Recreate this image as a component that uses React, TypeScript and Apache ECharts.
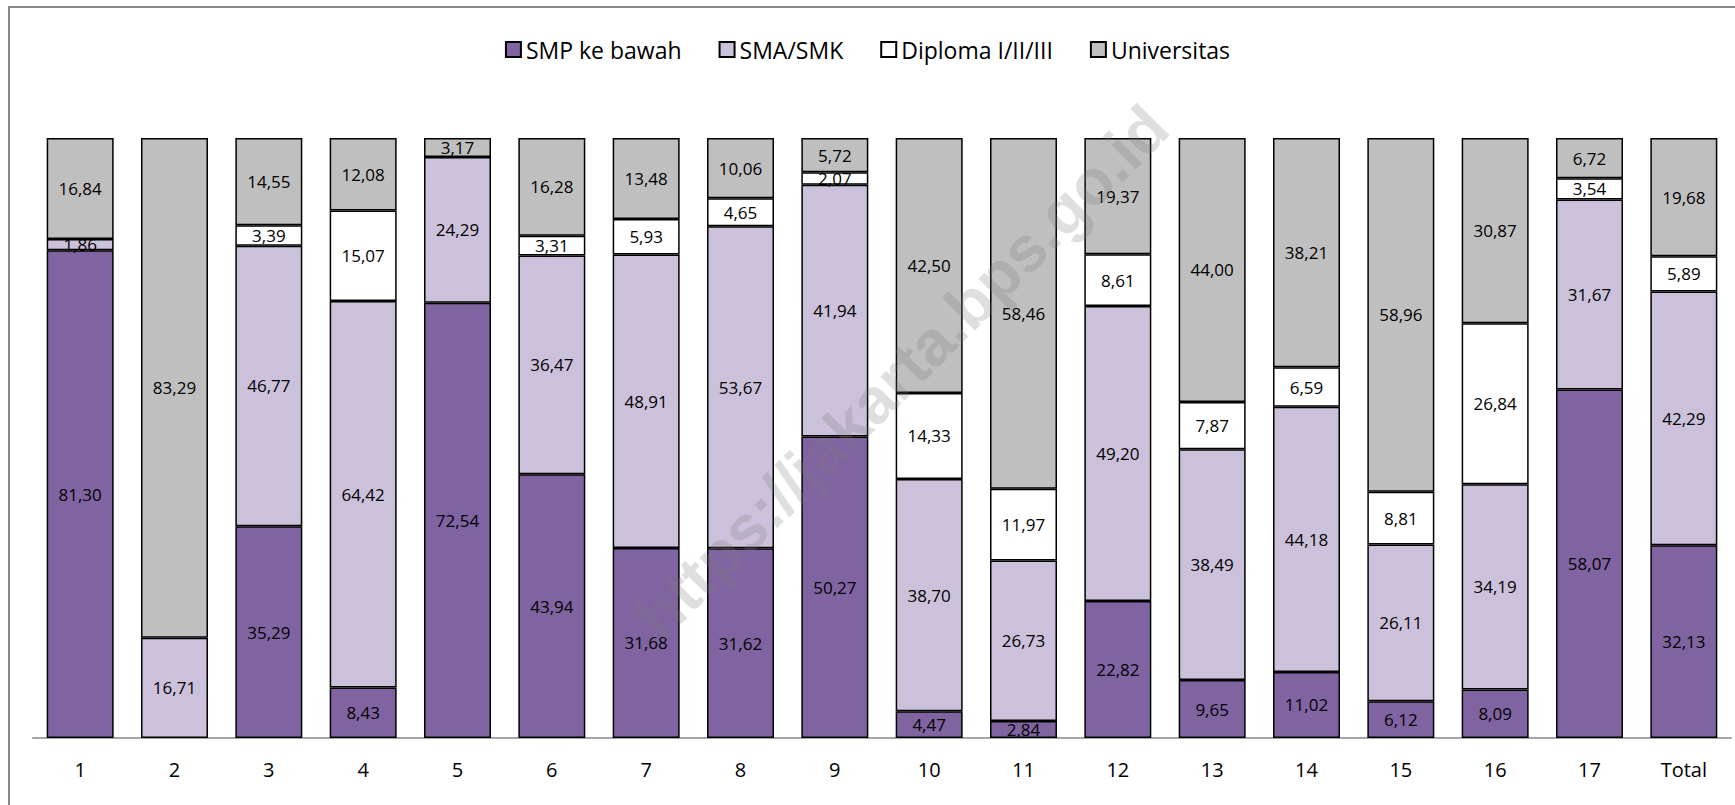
import React, { useEffect, useRef } from "react";
import * as echarts from "echarts";

const categories = ["1", "2", "3", "4", "5", "6", "7", "8", "9", "10", "11", "12", "13", "14", "15", "16", "17", "Total"];
const smp = [81.30, 0, 35.29, 8.43, 72.54, 43.94, 31.68, 31.62, 50.27, 4.47, 2.84, 22.82, 9.65, 11.02, 6.12, 8.09, 58.07, 32.13];
const sma = [1.86, 16.71, 46.77, 64.42, 24.29, 36.47, 48.91, 53.67, 41.94, 38.70, 26.73, 49.20, 38.49, 44.18, 26.11, 34.19, 31.67, 42.29];
const diploma = [0, 0, 3.39, 15.07, 0, 3.31, 5.93, 4.65, 2.07, 14.33, 11.97, 8.61, 7.87, 6.59, 8.81, 26.84, 3.54, 5.89];
const universitas = [16.84, 83.29, 14.55, 12.08, 3.17, 16.28, 13.48, 10.06, 5.72, 42.50, 58.46, 19.37, 44.00, 38.21, 58.96, 30.87, 6.72, 19.68];

const seriesNames = ["SMP ke bawah", "SMA/SMK", "Diploma I/II/III", "Universitas"];
const seriesColors = ["#8064A2", "#CCC1DA", "#FFFFFF", "#BFBFBF"];
const seriesData = [smp, sma, diploma, universitas];

const FONT = "'Open Sans', sans-serif";

export default function App() {
  const ref = useRef<HTMLDivElement>(null);
  useEffect(() => {
    if (!ref.current) return;
    const chart = echarts.init(ref.current, undefined, { renderer: "svg" });
    chart.setOption({
      animation: false,
      backgroundColor: "#FFFFFF",
      textStyle: { fontFamily: FONT },
      legend: {
        top: 33,
        left: "center",
        itemWidth: 15,
        itemHeight: 15,
        itemGap: 37,
        icon: "rect",
        textStyle: { fontSize: 23, color: "#000", fontFamily: FONT },
        data: seriesNames,
      },
      grid: { left: 33, right: 4, top: 138, bottom: 67, containLabel: false },
      xAxis: {
        type: "category",
        data: categories,
        axisLine: { lineStyle: { color: "#A6A6A6", width: 2 } },
        axisTick: { show: false },
        axisLabel: { color: "#000", fontSize: 20, margin: 21, fontFamily: FONT },
      },
      yAxis: { type: "value", min: 0, max: 100, show: false, splitLine: { show: false } },
      graphic: [
        {
          type: "rect",
          shape: { x: 9, y: 7, width: 1740, height: 820 },
          style: { fill: "none", stroke: "#878787", lineWidth: 2 },
          silent: true,
          z: 0,
        },
        {
          type: "text",
          x: 902,
          y: 372,
          rotation: Math.PI / 4,
          z: 100,
          silent: true,
          style: {
            text: "https://jakarta.bps.go.id",
            fontSize: 64,
            fontWeight: "bold",
            fontFamily: "'Liberation Sans', sans-serif",
            fill: "rgba(120,120,120,0.24)",
            align: "center",
            verticalAlign: "middle",
          },
        },
      ],
      series: seriesNames.map((name, i) => ({
        name,
        type: "bar",
        stack: "total",
        barCategoryGap: "29%",
        data: seriesData[i].map((v) => (v ? v : "-")),
        itemStyle: { color: seriesColors[i], borderColor: "#000", borderWidth: 1.5 },
        label: {
          show: true,
          position: "inside",
          color: "#000",
          fontSize: 17,
          fontFamily: FONT,
          formatter: (p: any) => {
            const n = Number(p.value);
            return n ? n.toFixed(2).replace(".", ",") : "";
          },
        },
      })),
    });
    return () => chart.dispose();
  }, []);
  return <div ref={ref} style={{ position: "fixed", left: 0, top: 0, width: 1735, height: 805 }} />;
}
